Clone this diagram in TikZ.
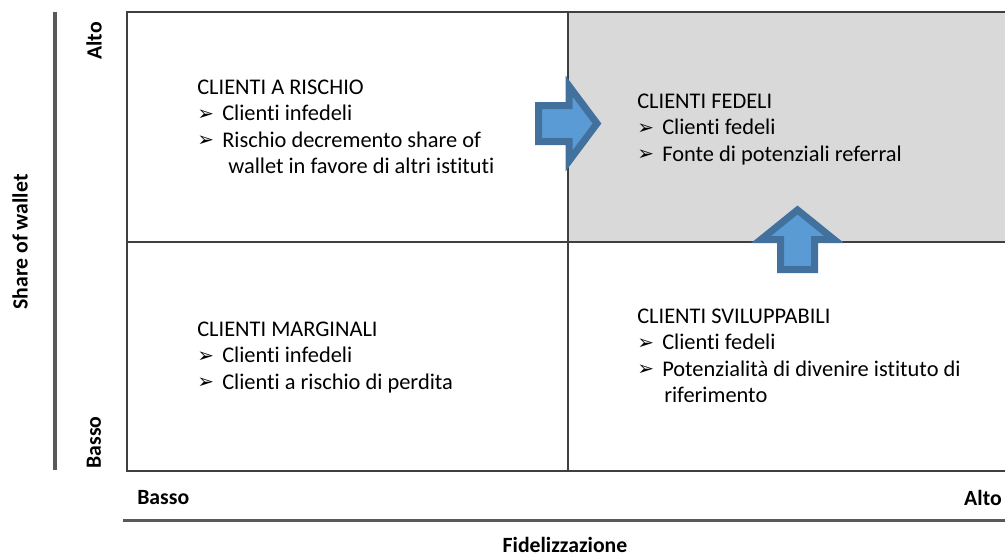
\documentclass[tikz,border=0pt]{standalone}
\usepackage{fontspec}
\setmainfont{Carlito}[Ligatures=NoCommon]
\newfontfamily\symfont{DejaVu Sans}
\definecolor{gridline}{HTML}{3F3F3F}
\definecolor{axisline}{HTML}{595959}
\definecolor{quadgrey}{HTML}{D9D9D9}
\definecolor{arrowfill}{HTML}{5B9BD5}
\definecolor{arrowedge}{HTML}{41719C}
\newcommand{\bul}{\makebox[18.75pt][l]{\raisebox{0.3pt}{\symfont\fontsize{15}{15}\selectfont ➢}}}
\tikzset{
  body/.style={inner sep=0pt, anchor=base west, font=\fontsize{16.8}{20}\selectfont},
  axislabel/.style={inner sep=0pt, font=\fontsize{16.3}{19}\selectfont\bfseries},
  grid/.style={draw=gridline, line width=1.1pt},
  axis/.style={draw=axisline, line width=2.4pt},
  bigarrow/.style={fill=arrowfill, draw=arrowedge, line width=5.25pt, line join=miter},
}
\begin{document}
\begin{tikzpicture}[x=0.75pt, y=-0.75pt]
\useasboundingbox (0,0) rectangle (1005,557);

% shaded quadrant
\fill[quadgrey] (568,12) rectangle (1005,242);

% matrix grid
\draw[grid] (1005,12) -- (127,12) -- (127,471) -- (1005,471);
\draw[grid] (568,12) -- (568,471);
\draw[grid] (127,242) -- (1005,242);

% axes
\draw[axis] (55,12) -- (55,470);
\draw[axis] (123,520.5) -- (1005,520.5);

% axis labels
\node[axislabel, rotate=90] (yhi) at (94,41) {Alto};
\node[axislabel, rotate=90] (ylo) at (94,442.5) {Basso};
\node[axislabel, rotate=90] (ytitle) at (20,242) {Share of wallet};
\node[axislabel, anchor=base west] (xlo) at (137,504.5) {Basso};
\node[axislabel, anchor=base east] (xhi) at (1002,505) {Alto};
\node[axislabel, anchor=base] (xtitle) at (565,552) {Fidelizzazione};

% top-left quadrant
\node[body] (tl0) at (197,94) {CLIENTI A RISCHIO};
\node[body] (tl1) at (197,120.5) {\bul Clienti infedeli};
\node[body] (tl2) at (197,147) {\bul Rischio decremento share of};
\node[body] (tl3) at (228,173.5) {wallet in favore di altri istituti};

% top-right quadrant
\node[body] (tr0) at (637,108) {CLIENTI FEDELI};
\node[body] (tr1) at (637,134.5) {\bul Clienti fedeli};
\node[body] (tr2) at (637,161) {\bul Fonte di potenziali referral};

% bottom-left quadrant
\node[body] (bl0) at (197,336) {CLIENTI MARGINALI};
\node[body] (bl1) at (197,362.5) {\bul Clienti infedeli};
\node[body] (bl2) at (197,389) {\bul Clienti a rischio di perdita};

% bottom-right quadrant
\node[body] (br0) at (637,323) {CLIENTI SVILUPPABILI};
\node[body] (br1) at (637,349.5) {\bul Clienti fedeli};
\node[body] (br2) at (637,376) {\bul Potenzialità di divenire istituto di};
\node[body] (br3) at (664,402.5) {riferimento};

% block arrows towards the loyal quadrant
\draw[bigarrow] (538.5,105.5) -- (569,105.5) -- (569,86) -- (597,123.5)
  -- (569,161) -- (569,141.5) -- (538.5,141.5) -- cycle;
\draw[bigarrow] (780.5,269.5) -- (780.5,239.5) -- (761,239.5) -- (797.5,210)
  -- (834,239.5) -- (814.5,239.5) -- (814.5,269.5) -- cycle;
\end{tikzpicture}
\end{document}
